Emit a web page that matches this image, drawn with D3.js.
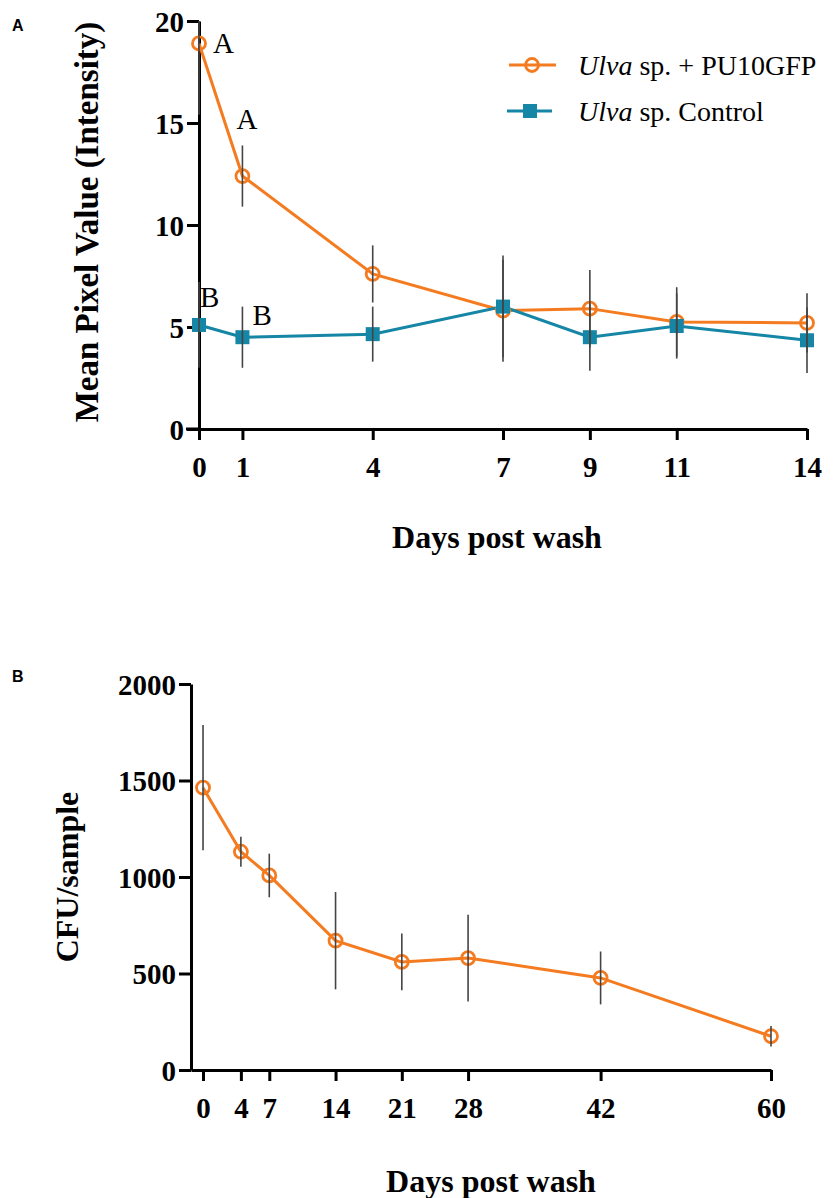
<!DOCTYPE html>
<html><head><meta charset="utf-8">
<script src="https://cdn.jsdelivr.net/npm/d3@7"></script>
<style>body{margin:0;background:#fff}svg{display:block}</style>
</head><body>
<script>
// ---- Data ----
const daysA = [0, 1, 4, 7, 9, 11, 14];
const pu10Mean = [18.9, 12.4, 7.6, 5.8, 5.9, 5.25, 5.2];
const pu10Err  = [3.5, 1.5, 1.4, 2.5, 1.9, 1.7, 1.45];
const ctrlMean = [5.1, 4.5, 4.65, 6.0, 4.5, 5.05, 4.35];
const ctrlErr  = [2.1, 1.5, 1.35, 2.5, 1.65, 1.6, 1.6];
const yTicksA = [0, 5, 10, 15, 20];
const lettersPu = ["A", "A"];
const lettersCtrl = ["B", "B"];
const legendLabels = [["Ulva", " sp. + PU10GFP"], ["Ulva", " sp. Control"]];

const daysB = [0, 4, 7, 14, 21, 28, 42, 60];
const cfuMean = [1463, 1131, 1008, 670, 560, 580, 477, 175];
const cfuErr  = [325, 78, 113, 252, 147, 225, 137, 53];
const yTicksB = [0, 500, 1000, 1500, 2000];

const ORANGE = "#F47B20", BLUE = "#1586A5", ERR = "#444";
const serif = "'Liberation Serif','Times New Roman',serif";

const svg = d3.select("body").append("svg").attr("width", 835).attr("height", 1198);

// Panel labels
svg.append("text").attr("x", 12).attr("y", 31).text("A")
  .attr("font-family", "'Liberation Sans',Arial,sans-serif").attr("font-weight", "bold").attr("font-size", 16);
svg.append("text").attr("x", 12).attr("y", 682).text("B")
  .attr("font-family", "'Liberation Sans',Arial,sans-serif").attr("font-weight", "bold").attr("font-size", 16);

function styleAxis(g) {
  g.select(".domain").attr("stroke", "#000").attr("stroke-width", 3);
  g.selectAll(".tick line").attr("stroke", "#000").attr("stroke-width", 3);
  g.selectAll(".tick text").attr("font-family", serif).attr("font-weight", "bold")
    .attr("font-size", 29).attr("fill", "#000");
}

// ---------------- Panel A ----------------
const xA = d3.scaleLinear().domain([0, 14]).range([199, 807]);
const yA = d3.scaleLinear().domain([0, 20]).range([429, 21]);

const gA = svg.append("g");
gA.append("g").attr("transform", "translate(0,429)")
  .call(d3.axisBottom(xA).tickValues(daysA).tickSize(11).tickSizeOuter(0).tickPadding(16))
  .call(styleAxis);
gA.append("g").attr("transform", "translate(199,0)")
  .call(d3.axisLeft(yA).tickValues(yTicksA).tickSize(12).tickSizeOuter(0).tickPadding(3))
  .call(styleAxis)
  .selectAll(".tick text").attr("dy", "0.36em");
gA.append("line").attr("x1", 186).attr("x2", 199).attr("y1", yA(0)).attr("y2", yA(0))
  .attr("stroke", "#000").attr("stroke-width", 3);

const lineA = (m) => d3.line().x((d, i) => xA(daysA[i])).y(d => yA(d))(m);
gA.append("path").attr("d", lineA(pu10Mean)).attr("fill", "none").attr("stroke", ORANGE).attr("stroke-width", 3);
gA.append("path").attr("d", lineA(ctrlMean)).attr("fill", "none").attr("stroke", BLUE).attr("stroke-width", 3);

gA.selectAll("circle.pu").data(pu10Mean).join("circle")
  .attr("cx", (d, i) => xA(daysA[i])).attr("cy", d => yA(d)).attr("r", 6.5)
  .attr("fill", "none").attr("stroke", ORANGE).attr("stroke-width", 2.8);
gA.selectAll("rect.ct").data(ctrlMean).join("rect")
  .attr("x", (d, i) => xA(daysA[i]) - 7).attr("y", d => yA(d) - 7)
  .attr("width", 14).attr("height", 14).attr("fill", BLUE);

function errBars(g, xs, ys, es, x, y, ymax) {
  g.selectAll(null).data(ys).join("line")
    .attr("x1", (d, i) => x(xs[i])).attr("x2", (d, i) => x(xs[i]))
    .attr("y1", (d, i) => y(Math.min(ymax, d + es[i]))).attr("y2", (d, i) => y(d - es[i]))
    .attr("stroke", ERR).attr("stroke-width", 1.6);
}
errBars(gA, daysA, pu10Mean, pu10Err, xA, yA, 20);
errBars(gA, daysA, ctrlMean, ctrlErr, xA, yA, 20);

const letStyle = s => s.attr("font-family", serif).attr("font-size", 29).attr("fill", "#000");
gA.append("text").attr("x", xA(daysA[0]) + 14).attr("y", yA(pu10Mean[0]) + 10).text(lettersPu[0]).call(letStyle);
gA.append("text").attr("x", xA(daysA[1]) - 6).attr("y", yA(pu10Mean[1] + 2.3)).text(lettersPu[1]).call(letStyle);
gA.append("text").attr("x", xA(daysA[0]) + 1).attr("y", yA(ctrlMean[0] + 0.9)).text(lettersCtrl[0]).call(letStyle);
gA.append("text").attr("x", xA(daysA[1]) + 10).attr("y", yA(ctrlMean[1] + 0.6)).text(lettersCtrl[1]).call(letStyle);

// legend
const legY = [65, 111];
const leg = gA.append("g");
leg.append("line").attr("x1", 509).attr("x2", 556).attr("y1", legY[0]).attr("y2", legY[0]).attr("stroke", ORANGE).attr("stroke-width", 3);
leg.append("circle").attr("cx", 532).attr("cy", legY[0]).attr("r", 6.5).attr("fill", "none").attr("stroke", ORANGE).attr("stroke-width", 2.8);
leg.append("line").attr("x1", 507).attr("x2", 552).attr("y1", legY[1]).attr("y2", legY[1]).attr("stroke", BLUE).attr("stroke-width", 3);
leg.append("rect").attr("x", 523).attr("y", legY[1] - 7).attr("width", 14).attr("height", 14).attr("fill", BLUE);
legendLabels.forEach((lab, i) => {
  const t = leg.append("text").attr("x", 578).attr("y", legY[i] + 10)
    .attr("font-family", serif).attr("font-size", 28).attr("fill", "#000");
  t.append("tspan").attr("font-style", "italic").text(lab[0]);
  t.append("tspan").text(lab[1]);
});

gA.append("text").attr("transform", "translate(98,222) rotate(-90)").attr("text-anchor", "middle")
  .attr("font-family", serif).attr("font-weight", "bold").attr("font-size", 33).text("Mean Pixel Value (Intensity)");
gA.append("text").attr("x", 497).attr("y", 548).attr("text-anchor", "middle")
  .attr("font-family", serif).attr("font-weight", "bold").attr("font-size", 32).text("Days post wash");

// ---------------- Panel B ----------------
const xB = d3.scaleLinear().domain([-1.27, 60]).range([191, 771]);
const yB = d3.scaleLinear().domain([0, 2000]).range([1070, 684]);
const gB = svg.append("g");
gB.append("g").attr("transform", "translate(0,1070)")
  .call(d3.axisBottom(xB).tickValues(daysB).tickSize(11).tickSizeOuter(0).tickPadding(16))
  .call(styleAxis);
gB.append("g").attr("transform", "translate(191,0)")
  .call(d3.axisLeft(yB).tickValues(yTicksB).tickFormat(d3.format("d")).tickSize(12).tickSizeOuter(0).tickPadding(3))
  .call(styleAxis)
  .selectAll(".tick text").attr("dy", "0.36em");

gB.append("path").attr("d", d3.line().x((d, i) => xB(daysB[i])).y(d => yB(d))(cfuMean))
  .attr("fill", "none").attr("stroke", ORANGE).attr("stroke-width", 3);
gB.selectAll("circle").data(cfuMean).join("circle")
  .attr("cx", (d, i) => xB(daysB[i])).attr("cy", d => yB(d)).attr("r", 6.5)
  .attr("fill", "none").attr("stroke", ORANGE).attr("stroke-width", 2.8);
errBars(gB, daysB, cfuMean, cfuErr, xB, yB, 2000);

gB.append("text").attr("transform", "translate(78,877) rotate(-90)").attr("text-anchor", "middle")
  .attr("font-family", serif).attr("font-weight", "bold").attr("font-size", 32).text("CFU/sample");
gB.append("text").attr("x", 491).attr("y", 1192).attr("text-anchor", "middle")
  .attr("font-family", serif).attr("font-weight", "bold").attr("font-size", 32).text("Days post wash");
</script>
</body></html>
